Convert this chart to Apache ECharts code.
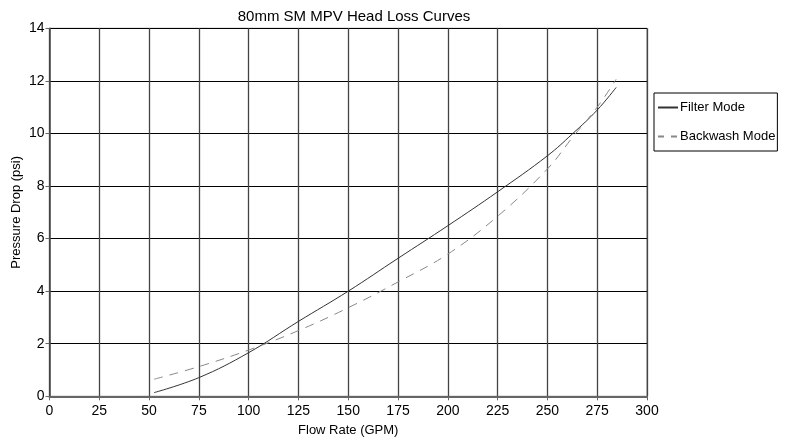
<!DOCTYPE html>
<html>
<head>
<meta charset="utf-8">
<script src="https://cdn.jsdelivr.net/npm/echarts@6/dist/echarts.min.js"></script>
<style>html,body{margin:0;padding:0;background:#fff;}#c{width:785px;height:445px;}</style>
</head>
<body>
<div id="c"></div>
<script>
const filterFlow = [52.5, 75, 100, 125, 150, 175, 200, 225, 250, 262.5, 275, 284.5];
const filterDrop = [0.14, 0.71, 1.66, 2.85, 4.0, 5.25, 6.49, 7.78, 9.15, 9.98, 10.89, 11.75];
const backwashFlow = [52.5, 75, 100, 125, 150, 175, 200, 225, 250, 262.5, 275, 284.5];
const backwashDrop = [0.65, 1.13, 1.76, 2.5, 3.37, 4.35, 5.41, 6.85, 8.65, 9.84, 11.0, 12.06];
const seriesNames = ['Filter Mode', 'Backwash Mode'];

const zip = (xs, ys) => xs.map((x, i) => [x, ys[i]]);
const font = '"Liberation Sans", Arial, sans-serif';
const chart = echarts.init(document.getElementById('c'), null, {renderer: 'canvas'});
chart.setOption({
  animation: false,
  backgroundColor: '#fff',
  title: {
    text: '80mm SM MPV Head Loss Curves',
    left: 349, top: 4, textAlign: 'center',
    textStyle: {fontFamily: font, fontSize: 15, fontWeight: 'normal', color: '#000'}
  },
  legend: {
    orient: 'vertical',
    left: 654, top: 93,
    width: 123,
    padding: [8, 2, 8, 3],
    itemGap: 16,
    itemWidth: 20, itemHeight: 10,
    borderColor: '#000', borderWidth: 1,
    itemStyle: {opacity: 0},
    textStyle: {fontFamily: font, fontSize: 13, color: '#000', padding: [0, 0, 0, -3]},
    data: [
      {name: seriesNames[0]},
      {name: seriesNames[1], lineStyle: {type: [6, 7]}}
    ]
  },
  grid: {
    left: 49.5, right: 138, top: 28.3, bottom: 48.7,
    outerBoundsMode: 'none', containLabel: false,
    show: true, borderColor: '#808080', borderWidth: 1
  },
  xAxis: {
    type: 'value', min: 0, max: 300, interval: 25,
    name: 'Flow Rate (GPM)', nameLocation: 'middle', nameGap: 28, nameMoveOverlap: false,
    nameTextStyle: {fontFamily: font, fontSize: 13, color: '#000'},
    axisLine: {show: true, lineStyle: {color: '#666', width: 2}},
    axisTick: {show: true, length: 4, lineStyle: {color: '#666'}},
    axisLabel: {fontFamily: font, fontSize: 14, color: '#000', margin: 8},
    splitLine: {show: true, lineStyle: {color: '#444', width: 1.3}}
  },
  yAxis: {
    type: 'value', min: 0, max: 14, interval: 2,
    name: 'Pressure Drop (psi)', nameLocation: 'middle', nameGap: 27, nameMoveOverlap: false,
    nameTextStyle: {fontFamily: font, fontSize: 13, color: '#000'},
    axisLine: {show: true, lineStyle: {color: '#444', width: 1.5}},
    axisTick: {show: true, length: 4, lineStyle: {color: '#666'}},
    axisLabel: {fontFamily: font, fontSize: 14, color: '#000', margin: 5},
    splitLine: {show: true, lineStyle: {color: '#000', width: 1}}
  },
  series: [
    {
      name: seriesNames[0], type: 'line', smooth: 0.4, symbol: 'none',
      data: zip(filterFlow, filterDrop),
      itemStyle: {color: '#333'},
      lineStyle: {color: '#333', width: 1}
    },
    {
      name: seriesNames[1], type: 'line', smooth: 0.4, symbol: 'none',
      data: zip(backwashFlow, backwashDrop),
      itemStyle: {color: '#888'},
      lineStyle: {color: '#888', width: 1, type: [9, 7]}
    }
  ]
});
</script>
</body>
</html>
